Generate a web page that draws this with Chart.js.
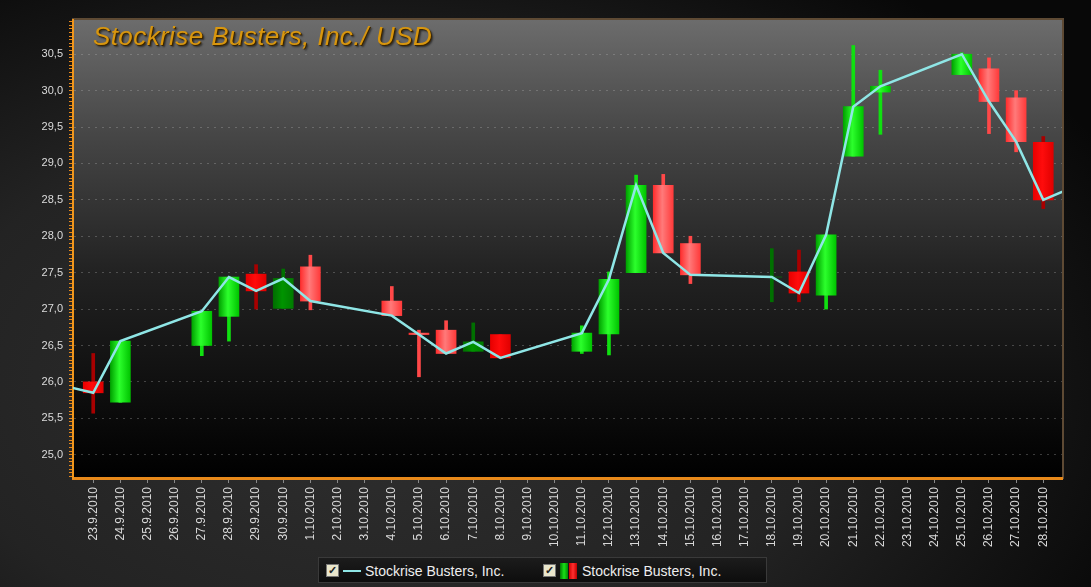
<!DOCTYPE html>
<html>
<head>
<meta charset="utf-8">
<script src="https://cdn.jsdelivr.net/npm/chart.js@4.4.1/dist/chart.umd.min.js"></script>
<style>
    html, body { margin: 0; padding: 0; }
    body {
        width: 1091px;
        height: 587px;
        overflow: hidden;
        background: radial-gradient(ellipse 75% 85% at 35% 65%, #303030 0%, #232323 55%, #080808 100%);
        font-family: "Liberation Sans", Arial, sans-serif;
    }
    #wrap { position: relative; width: 1091px; height: 587px; }
    #chartTitle {
        position: absolute; left: 93px; top: 21px;
        font: italic 26px "Liberation Sans", Arial, sans-serif;
        letter-spacing: 0.4px;
        color: #d8960e;
        text-shadow: 1px 1px 0 #3c2600, 2px 2px 2px rgba(0,0,0,0.6);
        white-space: nowrap;
    }
    #legendBox {
        position: absolute; left: 318px; top: 557px; width: 449px; height: 26px;
        background: linear-gradient(#1c1c1c, #0d0d0d);
        border: 1px solid #3a3a3a;
        box-sizing: border-box;
    }
    .legItem { position: absolute; top: 5px; height: 16px; color: #eeeeee; font-size: 14px; line-height: 16px; white-space: nowrap; }
    .chk {
        position: absolute; top: 1px; width: 11px; height: 11px;
        background: #e9e6cc; border: 1px solid #777;
        color: #222; font-size: 11px; line-height: 11px; text-align: center; font-weight: bold;
    }
    .lineIcon { position: absolute; left: 17px; top: 7px; width: 18px; height: 2px; background: #8fe6e6; }
    .candleIcon { position: absolute; top: 0; width: 8px; height: 16px; }
    .legText { position: absolute; top: 0; }
</style>
</head>
<body>
<div id="wrap">
    <canvas id="stockChart" width="1091" height="587"></canvas>
    <div id="chartTitle">Stockrise Busters, Inc./ USD</div>
    <div id="legendBox">
        <div class="legItem" style="left:7px">
            <span class="chk">&#10003;</span>
            <span class="lineIcon"></span>
            <span class="legText" style="left:39px">Stockrise Busters, Inc.</span>
        </div>
        <div class="legItem" style="left:224px">
            <span class="chk">&#10003;</span>
            <span class="candleIcon" style="left:17px;background:linear-gradient(90deg,#007a00,#18e018,#008a00)"></span>
            <span class="candleIcon" style="left:26px;background:linear-gradient(90deg,#d00000,#ff3030,#c00000)"></span>
            <span class="legText" style="left:39px">Stockrise Busters, Inc.</span>
        </div>
    </div>
</div>

<script>
// trading days on the axis (weekends have no candle)
var dates = [
    '23.9.2010', '24.9.2010', '25.9.2010', '26.9.2010', '27.9.2010', '28.9.2010',
    '29.9.2010', '30.9.2010', '1.10.2010', '2.10.2010', '3.10.2010', '4.10.2010',
    '5.10.2010', '6.10.2010', '7.10.2010', '8.10.2010', '9.10.2010', '10.10.2010',
    '11.10.2010', '12.10.2010', '13.10.2010', '14.10.2010', '15.10.2010', '16.10.2010',
    '17.10.2010', '18.10.2010', '19.10.2010', '20.10.2010', '21.10.2010', '22.10.2010',
    '23.10.2010', '24.10.2010', '25.10.2010', '26.10.2010', '27.10.2010', '28.10.2010'
];

var openPrices = [
    26.00, 25.72, null, null, 26.50, 26.90, 27.48, 27.01, 27.58, null, null, 27.11,
    26.67, 26.71, 26.42, 26.65, null, null, 26.42, 26.66, 27.50, 28.70, 27.90, null,
    null, 27.44, 27.51, 27.19, 29.10, 29.98, null, null, 30.22, 30.30, 29.90, 29.29
];
var closePrices = [
    25.85, 26.56, null, null, 26.97, 27.44, 27.25, 27.42, 27.11, null, null, 26.91,
    26.65, 26.39, 26.55, 26.33, null, null, 26.67, 27.41, 28.70, 27.77, 27.47, null,
    null, 27.44, 27.22, 28.02, 29.78, 30.06, null, null, 30.50, 29.85, 29.30, 28.50
];
var highPrices = [
    26.39, 26.56, null, null, 26.97, 27.44, 27.61, 27.55, 27.74, null, null, 27.31,
    26.71, 26.84, 26.81, 26.65, null, null, 26.77, 27.51, 28.84, 28.85, 28.00, null,
    null, 27.83, 27.81, 28.02, 30.62, 30.28, null, null, 30.52, 30.45, 30.00, 29.37
];
var lowPrices = [
    25.57, 25.72, null, null, 26.36, 26.56, 27.00, 27.01, 26.99, null, null, 26.91,
    26.07, 26.39, 26.42, 26.33, null, null, 26.39, 26.37, 27.50, 27.77, 27.35, null,
    null, 27.10, 27.10, 27.00, 29.10, 29.40, null, null, 30.22, 29.41, 29.16, 28.38
];

// closes just outside the visible range (22.9. and 29.10.)
var closeBefore = 25.94;
var closeAfter = 28.66;

var yTicks = [25.0, 25.5, 26.0, 26.5, 27.0, 27.5, 28.0, 28.5, 29.0, 29.5, 30.0, 30.5];

// styling of individual candles
var darkGreenDays = ['30.9.2010', '7.10.2010', '18.10.2010'];
var solidRedDays = ['23.9.2010', '29.9.2010', '8.10.2010', '19.10.2010', '28.10.2010'];

function candleTone(i) {
    var up = closePrices[i] >= openPrices[i];
    if (up) return darkGreenDays.indexOf(dates[i]) >= 0 ? 'darkGreen' : 'green';
    return solidRedDays.indexOf(dates[i]) >= 0 ? 'red' : 'lightRed';
}

var toneStops = {
    green: ['#00a200', '#2cff2c', '#00c400'],
    darkGreen: ['#006e00', '#009400', '#007c00'],
    red: ['#e80000', '#ff0c0c', '#e00000'],
    lightRed: ['#ff2e2e', '#ff7a7a', '#ff3a3a']
};
var wickColors = {
    green: '#10e010',
    darkGreen: '#007000',
    red: '#a80000',
    lightRed: '#ff4848'
};

function bodyFill(ctx) {
    var chart = ctx.chart;
    var i = ctx.raw ? ctx.raw.x : 0;
    var stops = toneStops[candleTone(i)];
    if (!chart.chartArea) return stops[1];
    var px = chart.scales.x.getPixelForValue(i);
    var g = chart.ctx.createLinearGradient(px - 10, 0, px + 10, 0);
    g.addColorStop(0, stops[0]);
    g.addColorStop(0.45, stops[1]);
    g.addColorStop(1, stops[2]);
    return g;
}

function buildCandles() {
    var bodies = [], wicks = [], line = [{ x: -1, y: closeBefore }];
    for (var i = 0; i < dates.length; i++) {
        if (openPrices[i] === null) continue;
        bodies.push({ x: i, y: [openPrices[i], closePrices[i]] });
        wicks.push({ x: i, y: [lowPrices[i], highPrices[i]] });
        line.push({ x: i, y: closePrices[i] });
    }
    line.push({ x: dates.length, y: closeAfter });
    return { bodies: bodies, wicks: wicks, line: line };
}

function isMajor(v) {
    for (var k = 0; k < yTicks.length; k++) {
        if (Math.abs(yTicks[k] - v) < 1e-6) return true;
    }
    return false;
}

// plot area background + frame
var plotBackground = {
    id: 'plotBackground',
    beforeDraw: function (chart) {
        var a = chart.chartArea, c = chart.ctx;
        var g = c.createLinearGradient(0, a.top, 0, a.bottom);
        g.addColorStop(0, '#6c6c6c');
        g.addColorStop(0.25, '#464646');
        g.addColorStop(0.55, '#222222');
        g.addColorStop(1, '#000000');
        c.save();
        c.fillStyle = g;
        c.fillRect(a.left, a.top, a.right - a.left, a.bottom - a.top);
        c.strokeStyle = '#5e4a34';
        c.lineWidth = 2;
        c.strokeRect(a.left, a.top - 1, a.right - a.left + 1, a.bottom - a.top + 1);
        c.restore();
    }
};

var candles = buildCandles();
var tickFont = { family: '"Liberation Sans Narrow", "Liberation Sans", Arial', size: 11 };

var stockChart = new Chart(document.getElementById('stockChart').getContext('2d'), {
    data: {
        datasets: [{
            type: 'line',
            label: 'Stockrise Busters, Inc.',
            data: candles.line,
            borderColor: '#8fe6e6',
            borderWidth: 2.5,
            pointRadius: 0,
            tension: 0,
            order: 0
        }, {
            type: 'bar',
            label: 'Stockrise Busters, Inc.',
            data: candles.bodies,
            backgroundColor: bodyFill,
            barThickness: 20,
            grouped: false,
            order: 1
        }, {
            type: 'bar',
            label: 'wicks',
            data: candles.wicks,
            backgroundColor: function (ctx) {
                return wickColors[candleTone(ctx.raw ? ctx.raw.x : 0)];
            },
            barThickness: 3,
            grouped: false,
            order: 2
        }]
    },
    options: {
        responsive: false,
        animation: false,
        layout: { padding: { top: 20, right: 29, bottom: 39, left: 0 } },
        plugins: {
            legend: { display: false },
            tooltip: { enabled: false }
        },
        scales: {
            x: {
                type: 'linear',
                offset: false,
                min: -0.745,
                max: 35.69,
                afterBuildTicks: function (s) {
                    s.ticks = dates.map(function (d, i) { return { value: i }; });
                },
                afterFit: function (s) { s.height = 70; },
                ticks: {
                    autoSkip: false,
                    minRotation: 90,
                    maxRotation: 90,
                    padding: 4,
                    color: '#d8d8d8',
                    font: { family: tickFont.family, size: 12 },
                    callback: function (v, i) { return dates[i]; }
                },
                grid: { drawOnChartArea: false, offset: false, tickLength: 5, tickColor: '#8a8a8a' },
                border: { color: '#e8891a', width: 3 }
            },
            y: {
                min: 24.68,
                max: 30.97,
                afterBuildTicks: function (s) {
                    var t = [];
                    for (var k = 494; k <= 619; k++) t.push({ value: k / 20 });
                    s.ticks = t;
                },
                afterFit: function (s) { s.width = 73; },
                ticks: {
                    autoSkip: false,
                    padding: 6,
                    color: '#dcdcdc',
                    font: tickFont,
                    callback: function (v) {
                        return isMajor(v) ? v.toFixed(1).replace('.', ',') : '';
                    }
                },
                grid: {
                    color: function (c) {
                        return c.tick && isMajor(c.tick.value) ? 'rgba(190,190,190,0.3)' : 'rgba(0,0,0,0)';
                    },
                    tickColor: '#e8891a',
                    tickLength: 4
                },
                border: { color: '#f0961c', width: 2, dash: [2, 5] }
            }
        }
    },
    plugins: [plotBackground]
});
</script>
</body>
</html>
